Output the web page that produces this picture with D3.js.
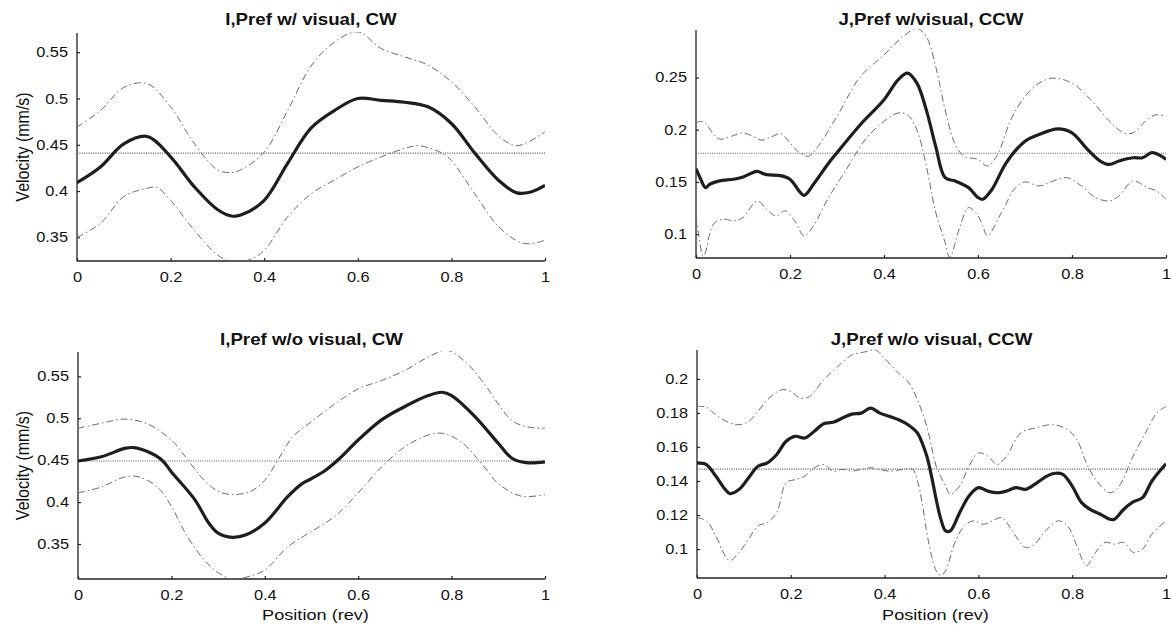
<!DOCTYPE html>
<html><head><meta charset="utf-8">
<script src="https://cdn.jsdelivr.net/npm/d3@7"></script>
<style>
html,body{margin:0;padding:0;background:#fff;}
text{font-family:"Liberation Sans",Arial,sans-serif;fill:#111;}
</style></head>
<body>
<svg id="chart" width="1173" height="625"></svg>
<script>
// ---------- DATA ----------
const panelTitles = ["I,Pref w/ visual, CW","J,Pref w/visual, CCW","I,Pref w/o visual, CW","J,Pref w/o visual, CCW"];
const xTicks = [0,0.2,0.4,0.6,0.8,1];
const xTickLabels = ["0","0.2","0.4","0.6","0.8","1"];
const yTicksI = [0.35,0.4,0.45,0.5,0.55];
const yTickLabelsI = ["0.35","0.4","0.45","0.5","0.55"];
const yTicksJ1 = [0.1,0.15,0.2,0.25];
const yTickLabelsJ1 = ["0.1","0.15","0.2","0.25"];
const yTicksJ2 = [0.1,0.12,0.14,0.16,0.18,0.2];
const yTickLabelsJ2 = ["0.1","0.12","0.14","0.16","0.18","0.2"];
const yDomains = [[0.3244,0.5708],[0.0771,0.2955],[0.3083,0.579],[0.083,0.217]];
const meanLevels = [0.441,0.1774,0.449,0.147];

// Panel I, with visual, CW
const tlMean = [[0,0.409],[0.05,0.426],[0.1,0.451],[0.15,0.459],[0.2,0.437],[0.25,0.405],[0.3,0.38],[0.33,0.373],[0.35,0.374],[0.4,0.39],[0.45,0.43],[0.5,0.468],[0.55,0.487],[0.6,0.5],[0.65,0.498],[0.7,0.496],[0.75,0.491],[0.8,0.473],[0.85,0.441],[0.9,0.412],[0.94,0.398],[0.97,0.399],[1,0.406]];
const tlUpper = [[0,0.469],[0.05,0.487],[0.1,0.512],[0.15,0.516],[0.2,0.491],[0.25,0.452],[0.3,0.423],[0.33,0.42],[0.35,0.423],[0.4,0.442],[0.45,0.487],[0.5,0.535],[0.55,0.561],[0.6,0.572],[0.65,0.554],[0.7,0.545],[0.75,0.536],[0.8,0.518],[0.85,0.491],[0.9,0.46],[0.94,0.449],[1,0.464]];
const tlLower = [[0,0.35],[0.05,0.365],[0.1,0.394],[0.15,0.403],[0.17,0.404],[0.2,0.39],[0.25,0.358],[0.3,0.331],[0.33,0.324],[0.37,0.326],[0.4,0.336],[0.45,0.372],[0.5,0.397],[0.55,0.412],[0.6,0.426],[0.65,0.437],[0.7,0.446],[0.73,0.449],[0.78,0.441],[0.8,0.433],[0.85,0.397],[0.9,0.362],[0.95,0.344],[0.98,0.344],[1,0.347]];

// Panel J, with visual, CCW
const trMean = [[0,0.1626],[0.01,0.1525],[0.02,0.1445],[0.03,0.148],[0.05,0.151],[0.08,0.1525],[0.1,0.1547],[0.12,0.1588],[0.13,0.16],[0.15,0.157],[0.18,0.156],[0.2,0.1525],[0.22,0.141],[0.23,0.137],[0.25,0.1477],[0.28,0.1667],[0.3,0.178],[0.35,0.205],[0.4,0.2287],[0.43,0.2478],[0.45,0.2542],[0.47,0.2446],[0.49,0.219],[0.51,0.184],[0.53,0.154],[0.55,0.151],[0.58,0.1445],[0.6,0.135],[0.61,0.1334],[0.63,0.143],[0.66,0.1683],[0.7,0.189],[0.73,0.1954],[0.77,0.2008],[0.8,0.197],[0.83,0.1826],[0.86,0.17],[0.88,0.1667],[0.9,0.17],[0.93,0.1731],[0.95,0.1731],[0.97,0.178],[0.99,0.1747],[1,0.1715]];
const trUpper = [[0,0.2065],[0.01,0.208],[0.02,0.2065],[0.035,0.197],[0.05,0.191],[0.08,0.1944],[0.1,0.197],[0.12,0.1938],[0.14,0.19],[0.16,0.193],[0.18,0.1963],[0.2,0.1874],[0.22,0.178],[0.24,0.1747],[0.26,0.1842],[0.3,0.2128],[0.35,0.251],[0.4,0.2716],[0.44,0.2891],[0.47,0.297],[0.49,0.2891],[0.51,0.2605],[0.53,0.2192],[0.55,0.1874],[0.57,0.1747],[0.6,0.1715],[0.62,0.1652],[0.64,0.1747],[0.67,0.2097],[0.7,0.2319],[0.73,0.2446],[0.76,0.2494],[0.8,0.2446],[0.84,0.2287],[0.88,0.2081],[0.91,0.197],[0.93,0.197],[0.96,0.2097],[0.98,0.2144],[1,0.2128]];
const trLower = [[0,0.1175],[0.005,0.1016],[0.015,0.079],[0.02,0.0825],[0.03,0.1016],[0.04,0.111],[0.06,0.1143],[0.08,0.1127],[0.1,0.1159],[0.13,0.1318],[0.15,0.1238],[0.17,0.1175],[0.19,0.1222],[0.21,0.1127],[0.23,0.0984],[0.25,0.108],[0.28,0.1334],[0.32,0.162],[0.36,0.1906],[0.4,0.208],[0.43,0.216],[0.45,0.2144],[0.47,0.2],[0.49,0.1652],[0.51,0.1207],[0.53,0.092],[0.54,0.0777],[0.56,0.1048],[0.58,0.1254],[0.6,0.1175],[0.61,0.108],[0.62,0.0984],[0.65,0.1207],[0.68,0.1445],[0.7,0.15],[0.73,0.1461],[0.76,0.1509],[0.79,0.154],[0.82,0.1461],[0.85,0.135],[0.88,0.1318],[0.9,0.1366],[0.93,0.1509],[0.96,0.1445],[0.98,0.1413],[1,0.1334]];

// Panel I, without visual, CW
const blMean = [[0,0.449],[0.05,0.454],[0.1,0.464],[0.12,0.465],[0.15,0.46],[0.18,0.45],[0.2,0.436],[0.25,0.403],[0.28,0.375],[0.3,0.363],[0.33,0.358],[0.36,0.361],[0.4,0.375],[0.45,0.407],[0.48,0.422],[0.5,0.428],[0.53,0.438],[0.56,0.452],[0.6,0.474],[0.65,0.498],[0.7,0.514],[0.75,0.527],[0.78,0.531],[0.8,0.527],[0.85,0.502],[0.9,0.47],[0.93,0.452],[0.96,0.447],[1,0.448]];
const blUpper = [[0,0.488],[0.05,0.494],[0.1,0.499],[0.15,0.493],[0.2,0.474],[0.23,0.454],[0.27,0.426],[0.3,0.413],[0.33,0.409],[0.37,0.413],[0.4,0.426],[0.43,0.452],[0.46,0.478],[0.5,0.496],[0.55,0.517],[0.6,0.535],[0.65,0.545],[0.7,0.557],[0.75,0.573],[0.79,0.581],[0.83,0.567],[0.87,0.541],[0.9,0.517],[0.93,0.497],[0.96,0.49],[1,0.488]];
const blLower = [[0,0.411],[0.05,0.418],[0.1,0.43],[0.13,0.43],[0.17,0.418],[0.2,0.395],[0.23,0.363],[0.27,0.331],[0.3,0.316],[0.33,0.308],[0.37,0.312],[0.4,0.319],[0.45,0.347],[0.5,0.365],[0.55,0.383],[0.6,0.411],[0.65,0.442],[0.7,0.466],[0.75,0.48],[0.78,0.482],[0.82,0.472],[0.87,0.442],[0.9,0.422],[0.95,0.407],[1,0.409]];

// Panel J, without visual, CCW
const brMean = [[0,0.1507],[0.02,0.1497],[0.04,0.1429],[0.06,0.1351],[0.07,0.1326],[0.09,0.1351],[0.11,0.1419],[0.13,0.1487],[0.15,0.1507],[0.17,0.1556],[0.19,0.1634],[0.21,0.1663],[0.23,0.1653],[0.25,0.1692],[0.27,0.1737],[0.29,0.1745],[0.31,0.177],[0.33,0.1793],[0.35,0.1799],[0.37,0.1828],[0.39,0.1799],[0.41,0.178],[0.43,0.176],[0.45,0.1731],[0.47,0.1682],[0.48,0.1624],[0.49,0.1546],[0.5,0.1429],[0.51,0.1292],[0.52,0.1175],[0.53,0.1107],[0.54,0.1107],[0.56,0.1214],[0.58,0.1312],[0.6,0.1361],[0.62,0.1341],[0.64,0.1331],[0.66,0.1341],[0.68,0.1361],[0.7,0.1351],[0.72,0.138],[0.74,0.1419],[0.76,0.1444],[0.78,0.1439],[0.8,0.137],[0.82,0.1273],[0.84,0.123],[0.86,0.1205],[0.88,0.1175],[0.89,0.1175],[0.91,0.1234],[0.93,0.1277],[0.95,0.1302],[0.97,0.14],[1,0.1501]];
const brUpper = [[0,0.1838],[0.02,0.1834],[0.04,0.1789],[0.07,0.1741],[0.09,0.1731],[0.11,0.175],[0.13,0.1809],[0.15,0.1877],[0.18,0.1936],[0.2,0.1926],[0.22,0.1887],[0.24,0.1897],[0.27,0.1994],[0.3,0.2072],[0.33,0.214],[0.36,0.216],[0.38,0.217],[0.4,0.2121],[0.43,0.2033],[0.45,0.1984],[0.47,0.1877],[0.49,0.1721],[0.5,0.1604],[0.51,0.1487],[0.53,0.137],[0.54,0.1322],[0.56,0.137],[0.58,0.1487],[0.6,0.1565],[0.62,0.1546],[0.64,0.1497],[0.66,0.1546],[0.69,0.1682],[0.72,0.1711],[0.76,0.1731],[0.79,0.1702],[0.81,0.1643],[0.83,0.1507],[0.85,0.1409],[0.88,0.1331],[0.9,0.137],[0.93,0.1546],[0.96,0.1702],[0.98,0.1799],[1,0.1838]];
const brLower = [[0,0.1185],[0.02,0.1166],[0.04,0.1078],[0.06,0.0961],[0.07,0.0932],[0.09,0.0981],[0.11,0.1058],[0.13,0.1136],[0.15,0.1156],[0.17,0.1214],[0.19,0.139],[0.21,0.1409],[0.23,0.1429],[0.25,0.1478],[0.27,0.1497],[0.29,0.1458],[0.31,0.1468],[0.33,0.1458],[0.35,0.1468],[0.37,0.1478],[0.39,0.1468],[0.41,0.1458],[0.44,0.1468],[0.46,0.1468],[0.47,0.14],[0.48,0.1273],[0.49,0.1097],[0.5,0.0961],[0.51,0.0873],[0.52,0.0844],[0.53,0.0873],[0.55,0.1039],[0.57,0.1136],[0.59,0.1166],[0.61,0.1146],[0.63,0.1166],[0.65,0.1185],[0.67,0.1117],[0.7,0.101],[0.72,0.1029],[0.74,0.1097],[0.77,0.1166],[0.79,0.1136],[0.81,0.1019],[0.83,0.0903],[0.85,0.0981],[0.87,0.1039],[0.89,0.1029],[0.91,0.1039],[0.93,0.0981],[0.95,0.1],[0.97,0.1088],[1,0.1166]];

// ---------- LAYOUT ----------
const SX = 1.17; // horizontal stretch of the scanned lettering
const svg = d3.select("#chart");
const boxes = [
  {x0:77, x1:545, y0:33, y1:261, titleY:25, ylabel:true, xlabel:false},
  {x0:696, x1:1166, y0:30, y1:258, titleY:25, ylabel:false, xlabel:false},
  {x0:78, x1:545, y0:352, y1:579, titleY:345, ylabel:true, xlabel:true},
  {x0:697, x1:1166, y0:350, y1:578, titleY:345, ylabel:false, xlabel:true}
];
const yTickSets = [[yTicksI,yTickLabelsI],[yTicksJ1,yTickLabelsJ1],[yTicksI,yTickLabelsI],[yTicksJ2,yTickLabelsJ2]];
const series = [[tlMean,tlUpper,tlLower],[trMean,trUpper,trLower],[blMean,blUpper,blLower],[brMean,brUpper,brLower]];

function stretchText(sel, xPos){
  sel.each(function(){
    const t = d3.select(this);
    const xv = xPos!==undefined ? xPos : (+t.attr("x") || 0);
    t.attr("x", xv/SX).attr("transform", `scale(${SX},1)`);
  });
}

boxes.forEach((b,i)=>{
  const x = d3.scaleLinear().domain([0,1]).range([b.x0,b.x1]);
  const y = d3.scaleLinear().domain(yDomains[i]).range([b.y1,b.y0]);
  const g = svg.append("g");
  const clipId = "clip"+i;
  svg.append("clipPath").attr("id",clipId).append("rect")
    .attr("x",b.x0).attr("y",b.y0-1).attr("width",b.x1-b.x0).attr("height",b.y1-b.y0+1);

  // axes
  const [yt, ytl] = yTickSets[i];
  const xa = d3.axisBottom(x).tickValues(xTicks).tickFormat((d,k)=>xTickLabels[k]).tickSizeInner(-3).tickSizeOuter(0).tickPadding(11);
  const ya = d3.axisLeft(y).tickValues(yt).tickFormat((d,k)=>ytl[k]).tickSizeInner(-3).tickSizeOuter(0).tickPadding(9);
  const gx = g.append("g").attr("transform",`translate(0,${b.y1})`).call(xa);
  const gy = g.append("g").attr("transform",`translate(${b.x0},0)`).call(ya);
  [gx,gy].forEach(a=>{
    a.select(".domain").attr("stroke","#222").attr("stroke-width",1.3);
    a.selectAll(".tick line").attr("stroke","#222").attr("stroke-width",1.2);
    a.selectAll(".tick text").attr("font-size",14).attr("fill","#111")
      .attr("font-family","'Liberation Sans',Arial,sans-serif");
  });
  stretchText(gx.selectAll(".tick text"), 0);
  stretchText(gy.selectAll(".tick text"));
  gy.select(".domain").attr("d",`M0,${b.y1}V${b.y0}`);
  gx.select(".domain").attr("d",`M${b.x0},0H${b.x1}`);

  const plot = g.append("g").attr("clip-path",`url(#${clipId})`);
  // mean level (dotted)
  plot.append("line")
    .attr("x1",x(0)).attr("x2",x(1))
    .attr("y1",y(meanLevels[i])).attr("y2",y(meanLevels[i]))
    .attr("stroke","#555").attr("stroke-width",1.1).attr("stroke-dasharray","1,1.3");

  const line = d3.line().x(d=>x(d[0])).y(d=>y(d[1])).curve(d3.curveCatmullRom.alpha(0.5));
  const [m,u,l] = series[i];
  [u,l].forEach(s=>{
    plot.append("path").datum(s).attr("d",line)
      .attr("fill","none").attr("stroke","#6a6a6a").attr("stroke-width",1)
      .attr("stroke-dasharray","7,3,1.5,3");
  });
  plot.append("path").datum(m).attr("d",line)
    .attr("fill","none").attr("stroke","#1e1e1e").attr("stroke-width",3.2)
    .attr("stroke-linejoin","round");

  // title
  const tt = g.append("text").attr("y",b.titleY)
    .attr("text-anchor","middle").attr("font-weight","bold").attr("font-size",16)
    .text(panelTitles[i]);
  stretchText(tt, (b.x0+b.x1)/2);
  if(b.ylabel){
    g.append("text").attr("transform",`translate(29,${(b.y0+b.y1)/2}) scale(${SX},1) rotate(-90)`)
      .attr("text-anchor","middle").attr("font-size",16).text("Velocity (mm/s)");
  }
  if(b.xlabel){
    const xl = g.append("text").attr("y",620)
      .attr("text-anchor","middle").attr("font-size",15.5).text("Position (rev)");
    stretchText(xl, (b.x0+b.x1)/2+4);
  }
});
</script>
</body></html>
